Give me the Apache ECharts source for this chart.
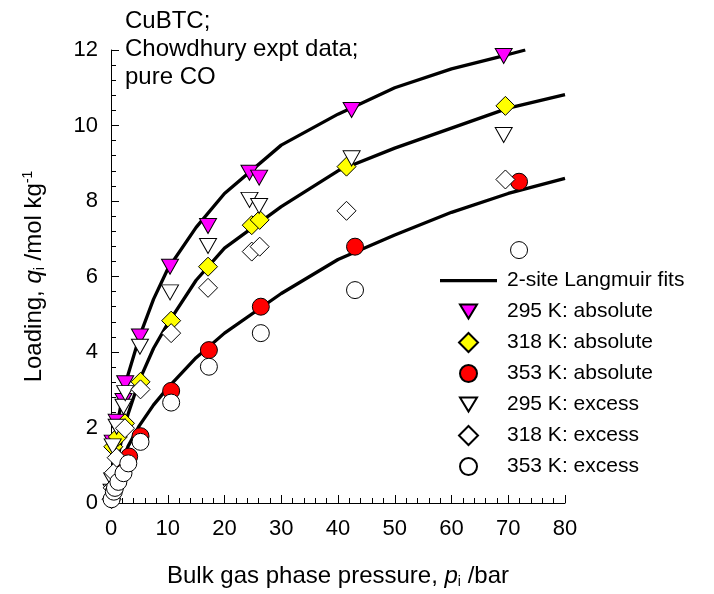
<!DOCTYPE html>
<html><head><meta charset="utf-8">
<script src="https://cdn.jsdelivr.net/npm/echarts@6/dist/echarts.min.js"></script>
<style>html,body{margin:0;padding:0;background:#fff}#c{width:714px;height:594px}</style>
</head><body><div id="c"></div>
<script>
// ---- data ----
const xTicks = [0, 10, 20, 30, 40, 50, 60, 70, 80];
const yTicks = [0, 2, 4, 6, 8, 10, 12];

// 2-site Langmuir fit curves
const fit295P = [0, 0.5, 1, 2, 3, 5, 7.5, 10, 15, 20, 30, 40, 50, 60, 70, 73];
const fit295Q = [0, 1.2, 2.0, 2.8, 3.4, 4.4, 5.4, 6.2, 7.3, 8.2, 9.48, 10.3, 11.0, 11.5, 11.88, 12.0];
const fit318P = [0, 1, 2, 3, 5, 7.5, 10, 15, 20, 30, 40, 50, 60, 70, 80];
const fit318Q = [0, 1.0, 1.8, 2.35, 3.25, 4.1, 4.75, 5.9, 6.75, 7.85, 8.8, 9.4, 9.93, 10.46, 10.82];
const fit353P = [0, 1, 2, 3, 5, 7.5, 10, 15, 20, 30, 40, 50, 60, 70, 80];
const fit353Q = [0, 0.6, 1.1, 1.5, 2.05, 2.6, 3.05, 3.85, 4.5, 5.55, 6.45, 7.1, 7.7, 8.2, 8.6];

// experimental data, absolute loadings
const abs295P = [0.3, 1.0, 2.2, 2.5, 5.1, 10.4, 17.1, 24.4, 26.1, 42.4, 69.2];
const abs295Q = [1.6, 2.15, 2.7, 3.17, 4.41, 6.26, 7.34, 8.75, 8.62, 10.41, 11.84];
const abs318P = [0.4, 1.2, 2.46, 5.2, 10.6, 17.1, 24.8, 26.2, 41.5, 69.5];
const abs318Q = [1.49, 1.75, 2.11, 3.21, 4.83, 6.26, 7.36, 7.5, 8.91, 10.52];
const abs353P = [1.5, 3.2, 5.2, 10.6, 17.25, 26.4, 43.0, 71.9];
const abs353Q = [0.9, 1.23, 1.77, 2.97, 4.05, 5.2, 6.79, 8.51];

// experimental data, excess loadings
const exc295P = [0.1, 0.2, 0.3, 1.0, 2.2, 2.5, 5.1, 10.4, 17.1, 24.4, 26.1, 42.4, 69.2];
const exc295Q = [0.3, 0.6, 1.5, 2.02, 2.55, 2.91, 4.14, 5.58, 6.81, 8.03, 7.87, 9.13, 9.75];
const exc318P = [0.1, 0.3, 0.5, 1.0, 2.46, 5.2, 10.6, 17.1, 24.8, 26.2, 41.5, 69.5];
const exc318Q = [0.1, 0.4, 0.8, 1.2, 1.98, 3.01, 4.5, 5.7, 6.66, 6.79, 7.74, 8.57];
const exc353P = [0.1, 0.5, 0.7, 1.3, 2.2, 3.05, 5.2, 10.6, 17.25, 26.4, 43.0, 71.9];
const exc353Q = [0.1, 0.3, 0.4, 0.56, 0.79, 1.05, 1.62, 2.66, 3.61, 4.5, 5.64, 6.70];

const legendNames = ['2-site Langmuir fits', '295 K: absolute', '318 K: absolute', '353 K: absolute',
                     '295 K: excess', '318 K: excess', '353 K: excess'];

// ---- chart ----
const FONT = "'Liberation Sans', Arial, sans-serif";
const zip = (a, b) => a.map((v, i) => [v, b[i]]);

// legend icon shapes (bounding box padded with move-to points so they keep their size)
const ICON_LINE = 'path://M0,0 M57,19 M0,8 L57,8 L57,11.2 L0,11.2 Z';
const ICON_TRI = 'path://M0,0 M17,19 M0,2.5 L17,2.5 L8.5,16.5 Z';
const ICON_DIA = 'path://M9.5,0 L19,9.5 L9.5,19 L0,9.5 Z';
const ICON_CIR = 'path://M0,0 M19,19 M1,9.5 A8.5,8.5 0 1 1 18,9.5 A8.5,8.5 0 1 1 1,9.5 Z';

function fit(p, q) {
  return { name: legendNames[0], type: 'line', data: zip(p, q), symbol: 'none', smooth: false,
           lineStyle: { color: '#000', width: 3.3 }, itemStyle: { color: '#000' }, z: 1 };
}
function pts(name, p, q, symbol, size, rot, fill) {
  return { name, type: 'scatter', data: zip(p, q), symbol, symbolSize: size, symbolRotate: rot,
           itemStyle: { color: fill, borderColor: '#000', borderWidth: 1, opacity: 1 }, z: 2 };
}

const chart = echarts.init(document.getElementById('c'), null, { renderer: 'canvas' });
chart.setOption({
  animation: false,
  backgroundColor: '#fff',
  textStyle: { fontFamily: FONT },
  grid: { left: 111, right: 149, top: 50, bottom: 91, containLabel: false },
  xAxis: {
    type: 'value', min: xTicks[0], max: xTicks[xTicks.length - 1], interval: 10,
    name: '{n|Bulk gas phase pressure, }{i|p}{s|i}{n| /bar}', nameLocation: 'middle', nameGap: 60,
    nameTextStyle: { rich: {
      n: { fontSize: 24, fontFamily: FONT, color: '#000' },
      i: { fontSize: 24, fontFamily: FONT, color: '#000', fontStyle: 'italic' },
      s: { fontSize: 14, fontFamily: FONT, color: '#000', verticalAlign: 'bottom', padding: [12, 0, 0, 0] } } },
    axisLine: { show: true, onZero: false, lineStyle: { color: '#000', width: 1 } },
    axisTick: { show: true, inside: true, length: 8, lineStyle: { color: '#000' } },
    minorTick: { show: true, splitNumber: 5, length: 5, lineStyle: { color: '#000' } },
    axisLabel: { fontSize: 22, color: '#000', margin: 15, fontFamily: FONT },
    splitLine: { show: false }
  },
  yAxis: {
    type: 'value', min: yTicks[0], max: yTicks[yTicks.length - 1], interval: 2,
    name: '{n|Loading, }{i|q}{s|i}{n| /mol kg}{u|-1}', nameLocation: 'middle', nameGap: 64, nameRotate: 90,
    nameTextStyle: { rich: {
      n: { fontSize: 24, fontFamily: FONT, color: '#000' },
      i: { fontSize: 24, fontFamily: FONT, color: '#000', fontStyle: 'italic' },
      s: { fontSize: 14, fontFamily: FONT, color: '#000', verticalAlign: 'bottom', padding: [12, 0, 0, 0] },
      u: { fontSize: 14, fontFamily: FONT, color: '#000', verticalAlign: 'top', padding: [0, 0, 12, 0] } } },
    axisLine: { show: true, onZero: false, lineStyle: { color: '#000', width: 1 } },
    axisTick: { show: true, inside: true, length: 8, lineStyle: { color: '#000' } },
    minorTick: { show: true, splitNumber: 5, length: 5, lineStyle: { color: '#000' } },
    axisLabel: { fontSize: 22, color: '#000', margin: 13, fontFamily: FONT },
    splitLine: { show: false }
  },
  legend: {
    orient: 'vertical', left: 435, top: 265, itemWidth: 57, itemHeight: 19, itemGap: 10,
    textStyle: { fontSize: 21, color: '#000', fontFamily: FONT, padding: [0, 0, 0, 5] },
    data: [
      { name: legendNames[0], icon: ICON_LINE, itemStyle: { color: '#000', borderWidth: 0 } },
      { name: legendNames[1], icon: ICON_TRI },
      { name: legendNames[2], icon: ICON_DIA },
      { name: legendNames[3], icon: ICON_CIR },
      { name: legendNames[4], icon: ICON_TRI },
      { name: legendNames[5], icon: ICON_DIA },
      { name: legendNames[6], icon: ICON_CIR }
    ]
  },
  graphic: [{
    type: 'text', left: 125, top: 7,
    style: { text: 'CuBTC;\nChowdhury expt data;\npure CO', font: '24px ' + FONT, lineHeight: 28, fill: '#000' }
  }],
  series: [
    fit(fit295P, fit295Q), fit(fit318P, fit318Q), fit(fit353P, fit353Q),
    pts(legendNames[1], abs295P, abs295Q, 'triangle', [17, 15], 180, '#ff00ff'),
    pts(legendNames[2], abs318P, abs318Q, 'diamond', [19, 19], 0, '#ffff00'),
    pts(legendNames[3], abs353P, abs353Q, 'circle', 17, 0, '#ff0000'),
    pts(legendNames[4], exc295P, exc295Q, 'triangle', [17, 15], 180, '#ffffff'),
    pts(legendNames[5], exc318P, exc318Q, 'diamond', [19, 19], 0, '#ffffff'),
    pts(legendNames[6], exc353P, exc353Q, 'circle', 17, 0, '#ffffff')
  ]
});
</script>
</body></html>
